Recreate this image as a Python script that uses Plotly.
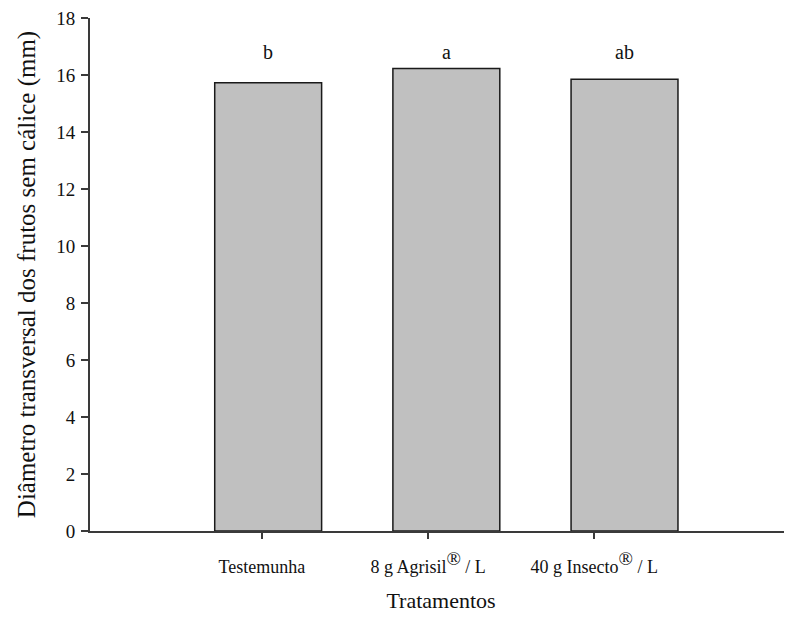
import plotly.graph_objects as go

categories = ["Testemunha", "8 g Agrisil<sup><span style='font-size:19px'>®</span></sup> / L",
              "40 g Insecto<sup><span style='font-size:19px'>®</span></sup> / L"]
values = [15.73, 16.23, 15.85]
letters = ["b", "a", "ab"]
letter_y = [16.8, 16.8, 16.8]
y_ticks = [0, 2, 4, 6, 8, 10, 12, 14, 16, 18]

FONT = "Liberation Serif, Times New Roman, serif"
AX = "#3a3a3a"

fig = go.Figure()
fig.add_trace(go.Bar(
    x=categories, y=values, width=0.6,
    marker=dict(color="#c0c0c0", line=dict(color="#1a1a1a", width=1.5)),
    xaxis="x", yaxis="y", hoverinfo="skip", showlegend=False,
))
# invisible trace carrying the category tick axis
fig.add_trace(go.Scatter(
    x=categories, y=[0, 0, 0], mode="markers", marker=dict(opacity=0),
    xaxis="x2", yaxis="y", hoverinfo="skip", showlegend=False,
))

for c, l, yy in zip(categories, letters, letter_y):
    fig.add_annotation(x=c, y=yy, xref="x", yref="y", text=l, showarrow=False,
                       font=dict(family=FONT, size=20, color="#111"))

# page body has an 8px default margin, so the figure is sized to fit the window
fig.update_layout(
    width=784, height=605,
    margin=dict(l=82, r=0, t=10, b=82, autoexpand=False),
    paper_bgcolor="white", plot_bgcolor="white",
    font=dict(family=FONT, color="#111"),
    xaxis=dict(type="category", range=[-1.0, 2.94], showticklabels=False, automargin=False,
               showline=False, showgrid=False, zeroline=False, ticks=""),
    xaxis2=dict(type="category", overlaying="x", side="bottom", range=[-1.035, 3.19],
                automargin=False, ticklabeloverflow="allow",
                showline=True, linecolor=AX, linewidth=2, showgrid=False, zeroline=False,
                ticks="outside", ticklen=6, tickwidth=1.5, tickcolor=AX,
                tickfont=dict(family=FONT, size=18, color="#111"),
                ticklabelstandoff=12,
                title=dict(text="Tratamentos", font=dict(family=FONT, size=22, color="#111"),
                           standoff=22)),
    yaxis=dict(range=[0, 18], tickvals=y_ticks, showline=True, linecolor=AX, linewidth=2,
               automargin=False, ticklabeloverflow="allow",
               showgrid=False, zeroline=False, ticks="outside", ticklen=7, tickwidth=1.5,
               tickcolor=AX, tickfont=dict(family=FONT, size=19, color="#111"),
               ticklabelstandoff=2,
               title=dict(text="Diâmetro transversal dos frutos sem cálice (mm)",
                          font=dict(family=FONT, size=25, color="#111"), standoff=13)),
)

fig.write_html("out.html")
